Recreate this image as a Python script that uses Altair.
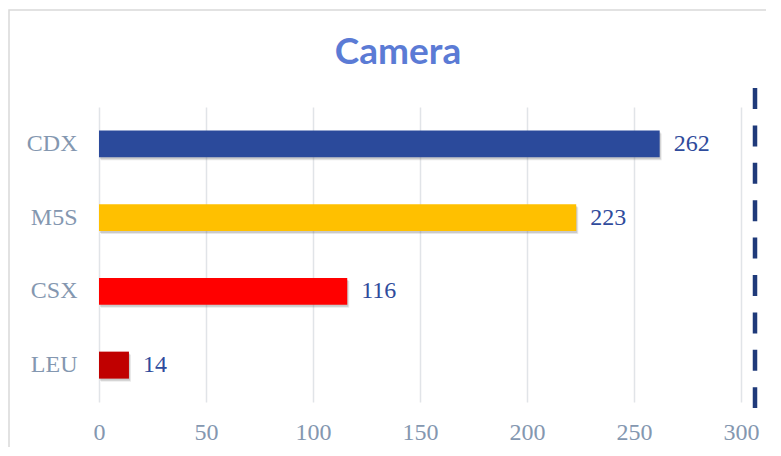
import altair as alt
import pandas as pd

categories = ["CDX", "M5S", "CSX", "LEU"]
values = [262, 223, 116, 14]
bar_colors = ["#2B4A9B", "#FFC000", "#FF0000", "#C00000"]
x_ticks = [0, 50, 100, 150, 200, 250, 300]
chart_title = "Camera"

df = pd.DataFrame({"cat": categories, "val": values})

y_enc = alt.Y("cat:N", sort=categories, title=None,
              scale=alt.Scale(paddingInner=0.634, paddingOuter=0.317),
              axis=alt.Axis(labelFont="Liberation Serif", labelFontSize=24,
                            labelColor="#8497B0", labelPadding=22,
                            ticks=False, domain=False, grid=False))
x_enc = alt.X("val:Q", title=None,
              scale=alt.Scale(domain=[0, 300], nice=False),
              axis=alt.Axis(values=x_ticks, labelFont="Liberation Serif",
                            labelFontSize=24, labelColor="#8497B0",
                            labelPadding=18, labelFlush=False, ticks=False,
                            domain=False, grid=True, gridColor="#E1E4E8",
                            gridWidth=1.5))

base = alt.Chart(df)

shadow1 = base.mark_bar(color="#6F6F6F", opacity=0.16, xOffset=2, x2Offset=5,
                        yOffset=3, y2Offset=7).encode(x=x_enc, y=y_enc)
shadow2 = base.mark_bar(color="#6F6F6F", opacity=0.25, xOffset=1, x2Offset=3,
                        yOffset=2, y2Offset=4).encode(x=x_enc, y=y_enc)

bars = base.mark_bar().encode(
    x=x_enc, y=y_enc,
    color=alt.Color("cat:N", scale=alt.Scale(domain=categories, range=bar_colors),
                    legend=None),
)

labels = base.mark_text(align="left", baseline="middle", dx=14,
                        font="Liberation Serif", fontSize=24,
                        color="#2F4B9C").encode(
    x=x_enc, y=y_enc, text="val:Q")

one = alt.Data(values=[{"t": chart_title}])

title = alt.Chart(one).mark_text(font="Lato", fontSize=37, fontWeight="bold",
                                 color="#5B7BD5", align="center",
                                 baseline="alphabetic").encode(
    x=alt.value(299), y=alt.value(-43), text="t:N")

dash = alt.Chart(one).mark_rule(color="#1F3A7A", strokeWidth=4.5,
                                strokeDash=[21, 16.4]).encode(
    x=alt.value(656), y=alt.value(-19), y2=alt.value(301))

border = alt.Chart(one).mark_rect(fillOpacity=0, stroke="#D9D9D9",
                                  strokeWidth=1.5).encode(
    x=alt.value(-90), x2=alt.value(720), y=alt.value(-97), y2=alt.value(420))

chart = alt.layer(border, shadow1, shadow2, bars, labels, dash, title).properties(
    width=642, height=295,
    padding={"left": 91, "top": 99, "right": 25, "bottom": 45},
    autosize=alt.AutoSizeParams(type="none"),
    background="white",
).configure_view(stroke="transparent", strokeWidth=0)

chart.save("out.html", embed_options={"renderer": "svg", "actions": False})
